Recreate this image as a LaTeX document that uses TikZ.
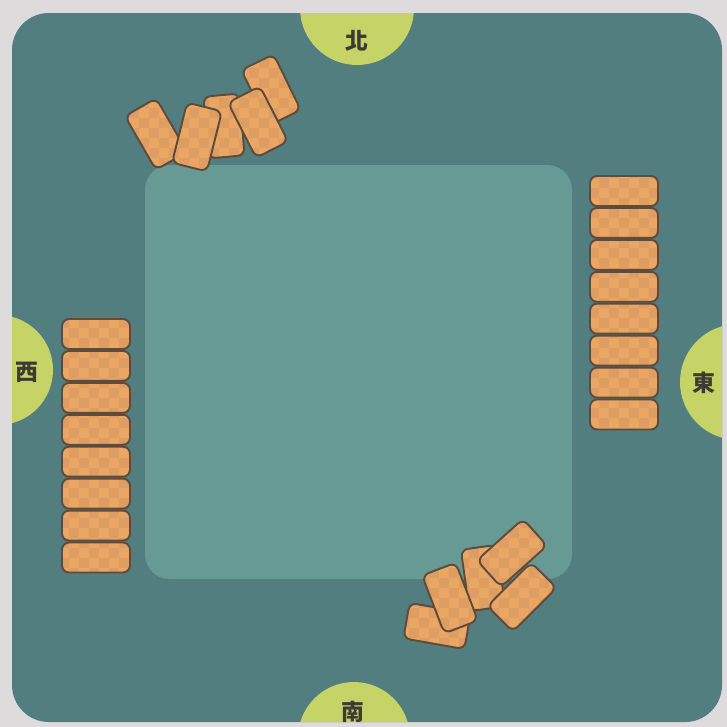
\documentclass[tikz,border=0pt]{standalone}
\usepackage{fontspec}
\newfontfamily\cjk{Noto Sans CJK TC}
\usepackage{xcolor}
\definecolor{PageGrey}{HTML}{DEDBDC}
\definecolor{BoardTeal}{HTML}{527E7F}
\definecolor{FeltTeal}{HTML}{679A94}
\definecolor{WindLime}{HTML}{C6D366}
\definecolor{WindInk}{HTML}{3B3B33}
\definecolor{TileOrange}{HTML}{EAA663}
\definecolor{TileCheck}{HTML}{DE9D62}
\definecolor{TileEdge}{HTML}{5E4B3C}
\usepackage{tikz}
\usetikzlibrary{positioning,patterns}

\begin{document}
\begin{tikzpicture}[x=0.02cm,y=-0.02cm,
    tile/.style={draw=TileEdge,line width=1.1pt,preaction={fill=TileOrange},pattern=checkerboard,pattern color=TileCheck,rounded corners=4pt,inner sep=0pt,minimum width=1.36cm,minimum height=0.6cm},
    loosetile/.style={tile,minimum width=1.24cm,minimum height=0.72cm},
    wind/.style={font=\cjk\bfseries\fontsize{13}{13}\selectfont,text=WindInk,inner sep=0pt}]
    \useasboundingbox (0,0) rectangle (727,727);
    % page and board
    \fill[PageGrey] (0,0) rectangle (727,727);
    \fill[BoardTeal,rounded corners=21pt] (12,13) rectangle (722,722);
    \begin{scope}
      \clip[rounded corners=21pt] (12,13) rectangle (722,722);
      \fill[WindLime] (357,8) circle[radius=57];
      \fill[WindLime] (738,382) circle[radius=58];
      \fill[WindLime] (354,738) circle[radius=56];
      \fill[WindLime] (-2,370) circle[radius=55];
    \end{scope}
    \fill[FeltTeal,rounded corners=14pt] (145,165) rectangle (572,579);
    % winds
    \node[wind] (north) at (357,41) {北};
    \node[wind] (east) at (704,383) {東};
    \node[wind] (south) at (353,712) {南};
    \node[wind] (west) at (27,372) {西};
    % east rack
    \node[tile] (e1) at (624,191) {};
    \node[tile,below=0pt of e1] (e2) {};
    \node[tile,below=0pt of e2] (e3) {};
    \node[tile,below=0pt of e3] (e4) {};
    \node[tile,below=0pt of e4] (e5) {};
    \node[tile,below=0pt of e5] (e6) {};
    \node[tile,below=0pt of e6] (e7) {};
    \node[tile,below=0pt of e7] (e8) {};
    % west rack
    \node[tile] (w1) at (96,334) {};
    \node[tile,below=0pt of w1] (w2) {};
    \node[tile,below=0pt of w2] (w3) {};
    \node[tile,below=0pt of w3] (w4) {};
    \node[tile,below=0pt of w4] (w5) {};
    \node[tile,below=0pt of w5] (w6) {};
    \node[tile,below=0pt of w6] (w7) {};
    \node[tile,below=0pt of w7] (w8) {};
    % north discards
    \node[loosetile,rotate=-64] (n5) at (271,90) {};
    \node[loosetile,rotate=95] (n3) at (224,126) {};
    \node[loosetile,rotate=-60] (n1) at (156,134) {};
    \node[loosetile,rotate=76] (n2) at (197,137) {};
    \node[loosetile,rotate=-63] (n4) at (258,122) {};
    % south discards
    \node[loosetile,rotate=-82] (s3) at (483,578) {};
    \node[loosetile,rotate=-10] (s1) at (437,626) {};
    \node[loosetile,rotate=-69] (s2) at (450,598) {};
    \node[loosetile,rotate=45] (s5) at (522,597) {};
    \node[loosetile,rotate=42] (s4) at (512,553) {};
  \end{tikzpicture}
\end{document}
